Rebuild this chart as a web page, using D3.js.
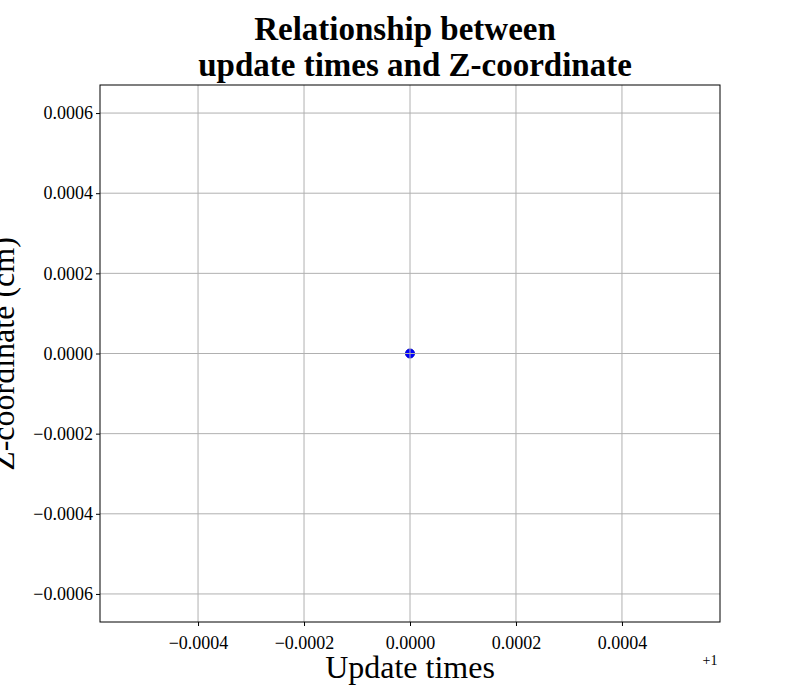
<!DOCTYPE html>
<html><head><meta charset="utf-8">
<script src="https://cdn.jsdelivr.net/npm/d3@7"></script>
<style>body{margin:0;background:#fff}text{font-family:"Liberation Serif","Times New Roman",serif}</style>
</head><body>
<svg id="chart" width="800" height="700"></svg>
<script>
// data: one update, offset from 1
var updateTimes = [1.0];
var zCoords = [0.0];
var xTicks = [-0.0004, -0.0002, 0, 0.0002, 0.0004];
var yTicks = [-0.0006, -0.0004, -0.0002, 0, 0.0002, 0.0004, 0.0006];
var xOffset = 1;

var svg = d3.select("#chart"),
    pLeft = 100, pRight = 720, pTop = 85, pBottom = 622;

var x = d3.scaleLinear().domain([-0.000585, 0.000585]).range([pLeft, pRight]);
var y = d3.scaleLinear().domain([-0.00067, 0.00067]).range([pBottom, pTop]);
var fmt = function(v) { return (v < 0 ? "\u2212" : "") + Math.abs(v).toFixed(4); };

// point first, grid drawn over it like the original
svg.append("g").selectAll("circle")
  .data(updateTimes.map(function(t, i) { return [t - xOffset, zCoords[i]]; }))
  .enter().append("circle")
  .attr("cx", function(d) { return x(d[0]); })
  .attr("cy", function(d) { return y(d[1]); })
  .attr("r", 4.5).attr("fill", "#0000ff").attr("stroke", "#0000cc");

var grid = svg.append("g").attr("stroke", "#b0b0b0").attr("stroke-width", 1);
xTicks.forEach(function(t) {
  grid.append("line").attr("x1", x(t)).attr("x2", x(t)).attr("y1", pTop).attr("y2", pBottom);
});
yTicks.forEach(function(t) {
  grid.append("line").attr("y1", y(t)).attr("y2", y(t)).attr("x1", pLeft).attr("x2", pRight);
});

svg.append("g").attr("transform", "translate(0," + pBottom + ")")
  .call(d3.axisBottom(x).tickValues(xTicks).tickFormat(fmt).tickSize(4))
  .call(function(g) { g.select(".domain").remove(); g.selectAll("text").attr("font-size", 18).attr("font-family", "Liberation Serif").attr("dy", "1.1em"); });
svg.append("g").attr("transform", "translate(" + pLeft + ",0)")
  .call(d3.axisLeft(y).tickValues(yTicks).tickFormat(fmt).tickSize(4))
  .call(function(g) { g.select(".domain").remove(); g.selectAll("text").attr("font-size", 18).attr("font-family", "Liberation Serif"); });

svg.append("rect").attr("x", pLeft).attr("y", pTop).attr("width", pRight - pLeft).attr("height", pBottom - pTop)
  .attr("fill", "none").attr("stroke", "#000");

svg.append("text").attr("x", 710).attr("y", 665).attr("text-anchor", "middle").attr("font-size", 14).text("+1");

svg.append("text").attr("x", 410).attr("y", 678).attr("text-anchor", "middle").attr("font-size", 32).text("Update times");
svg.append("text").attr("transform", "translate(14,354) rotate(-90)").attr("text-anchor", "middle")
  .attr("font-size", 32).text("Z-coordinate (cm)");

svg.append("text").attr("x", 405).attr("y", 40).attr("text-anchor", "middle").attr("font-size", 33).attr("font-weight", "bold").text("Relationship between");
svg.append("text").attr("x", 415).attr("y", 76).attr("text-anchor", "middle").attr("font-size", 33).attr("font-weight", "bold").text("update times and Z-coordinate");
</script>
</body></html>
